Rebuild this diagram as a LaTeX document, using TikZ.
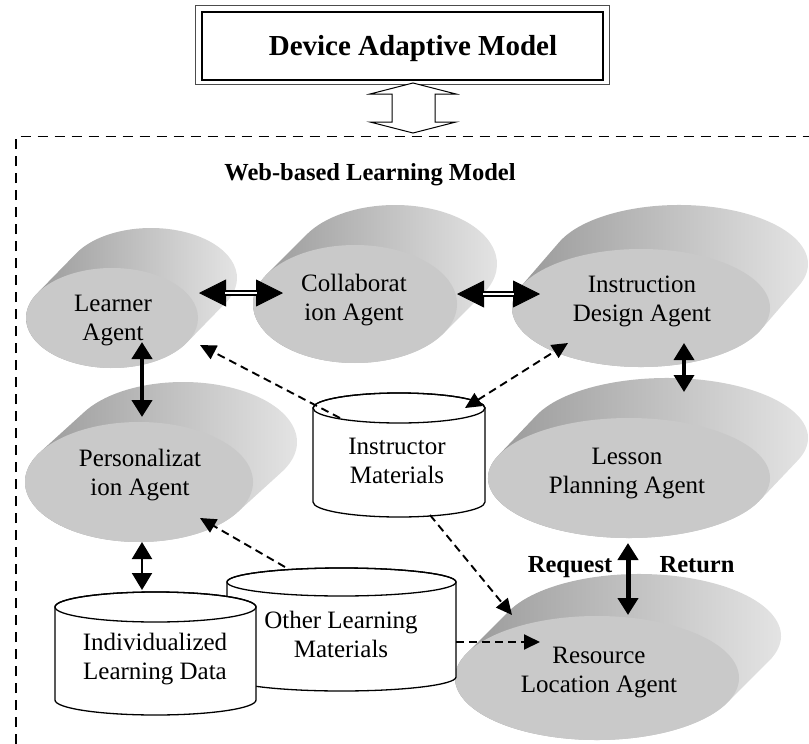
\documentclass[tikz,border=0pt]{standalone}
\usepackage{fontspec}
\setmainfont{Liberation Serif}
\usetikzlibrary{arrows.meta,calc}

\newcommand{\agentshape}[6]{%
  \pgfmathsetmacro{\ta}{atan((#4*#5)/(#3*#6))}%
  \pgfmathsetmacro{\tone}{180-\ta}%
  \pgfmathsetmacro{\ttwo}{-\ta}%
  \pgfmathsetmacro{\tend}{360-\ta}%
  \shade[sideshade] ($(#1,-#2)+(\ttwo:#3pt and #4pt)$) -- ++(#5,#6)
     arc[start angle=\ttwo, end angle=\tone, x radius=#3pt, y radius=#4pt]
     -- ++(-#5,-#6)
     arc[start angle=\tone, end angle=\tend, x radius=#3pt, y radius=#4pt] -- cycle;
  \fill[frontfill] (#1,-#2) ellipse[x radius=#3pt, y radius=#4pt];
}
\newcommand{\cylshape}[5]{%
  \filldraw[cylline, fill=white] (#1-#4,-#2) -- (#1-#4,-#3)
     arc[start angle=180, end angle=360, x radius=#4pt, y radius=#5pt]
     -- (#1+#4,-#2)
     arc[start angle=0, end angle=180, x radius=#4pt, y radius=#5pt] -- cycle;
  \draw[cylline] (#1,-#2) ellipse[x radius=#4pt, y radius=#5pt];
}

\begin{document}
\begin{tikzpicture}[x=1pt,y=1pt,
  sideshade/.style={left color=black!42, right color=black!9},
  frontfill/.style={fill=black!21},
  cylline/.style={draw=black, line width=1.3pt},
  agtext/.style={align=center, font=\fontsize{25}{29}\selectfont, text=black, inner sep=0pt},
  lbl/.style={font=\fontsize{24.5}{29}\selectfont\bfseries, anchor=base, inner sep=0pt},
  dasharr/.style={line width=1.9pt, dash pattern=on 8pt off 5pt},
  dtip/.style={-{Triangle[length=16pt,width=15pt]}},
  dtips/.style={{Triangle[length=16pt,width=15pt]}-{Triangle[length=16pt,width=15pt]}},
  thickarr/.style={line width=#1, {Triangle[length=17pt,width=20pt]}-{Triangle[length=17pt,width=20pt]}},
  dblhead/.style={line width=0.8pt, {Triangle[length=27pt,width=27pt]}-{Triangle[length=27pt,width=27pt]}},
  dblshaft/.style={line width=1.4pt, double=white, double distance=2.4pt, shorten <=26pt, shorten >=26pt}
]
\useasboundingbox (0,0) rectangle (809,-744);
\clip (0,0) rectangle (809,-744);

% title box
\draw[line width=1.3pt, black!70] (195.5,-5.3) rectangle (609.5,-84.5);
\draw[line width=2.8pt] (202,-12) rectangle (603,-80);
\node[font=\fontsize{29}{34}\selectfont\bfseries, anchor=base, inner sep=0pt] (title) at (413,-55) {Device Adaptive Model};

% hollow double arrow
\draw[line width=1pt, fill=white] (413,-83) -- (456,-94) -- (435,-94) -- (435,-122) -- (456,-122)
  -- (413,-133) -- (370,-122) -- (392,-122) -- (392,-94) -- (370,-94) -- cycle;

% dashed outer frame
\draw[line width=1.4pt, dash pattern=on 10pt off 7pt] (16,-744) -- (16,-136.5) -- (809,-136.5);
\node[lbl] (web) at (370,-180) {Web-based Learning Model};

% agents
\agentshape{112}{318}{86}{50}{39}{40}
\agentshape{355}{304}{102}{59}{40}{40}
\agentshape{641}{308}{129}{59}{38}{44}
\agentshape{139}{482}{114}{60}{44}{40}
\agentshape{629}{478}{141}{60}{38}{40}
\agentshape{597}{678}{142}{62}{42}{42}

\node[agtext] (learner) at (113,-321) {Learner\\Agent};
\node[agtext] (collab) at (354,-300) {Collaborat\\ion Agent};
\node[agtext] (instr) at (642,-301) {Instruction\\Design Agent};
\node[agtext] (pers) at (140,-475) {Personalizat\\ion Agent};
\node[agtext] (lesson) at (627,-474) {Lesson\\Planning Agent};
\node[agtext] (resource) at (599,-673) {Resource\\Location Agent};

% data stores
\cylshape{399}{408}{502}{86}{15}
\cylshape{341.5}{582}{677}{114.5}{14}
\cylshape{155.5}{607}{700}{100.5}{15}
\node[agtext] (imat) at (397,-461) {Instructor\\Materials};
\node[agtext] (other) at (341,-634) {Other Learning\\Materials};
\node[agtext] (indiv) at (155,-659) {Individualized\\Learning Data};

% arrow end points
\coordinate (lcA) at (199,-293);
\coordinate (lcB) at (283,-293);
\coordinate (ciA) at (457,-294);
\coordinate (ciB) at (540,-294);
\coordinate (lpA) at (142,-342);
\coordinate (lpB) at (142,-417);
\coordinate (ilA) at (684,-343);
\coordinate (ilB) at (684,-392);
\coordinate (piA) at (142,-542);
\coordinate (piB) at (142,-590);
\coordinate (lrA) at (628,-543);
\coordinate (lrB) at (628,-615);
\coordinate (imL) at (340,-418);
\coordinate (lrnT) at (200,-345);
\coordinate (imR) at (465,-408);
\coordinate (insT) at (568,-343);
\coordinate (imB) at (430,-515);
\coordinate (resT) at (512,-615);
\coordinate (othT) at (285,-567);
\coordinate (perT) at (200,-518);
\coordinate (othR) at (456,-642);
\coordinate (resL) at (540,-642);

% double-line arrows
\draw[dblhead] (lcA) -- (lcB);
\draw[dblshaft] (lcA) -- (lcB);
\draw[dblhead] (ciA) -- (ciB);
\draw[dblshaft] (ciA) -- (ciB);

% solid two-headed arrows
\draw[thickarr=4.5pt] (lpA) -- (lpB);
\draw[thickarr=3.5pt] (ilA) -- (ilB);
\draw[thickarr=2pt] (piA) -- (piB);
\draw[thickarr=5pt] (lrA) -- (lrB);

% dashed arrows
\draw[dasharr, dtip] (imL) -- (lrnT);
\draw[dasharr, dtips] (imR) -- (insT);
\draw[dasharr, dtip] (imB) -- (resT);
\draw[dasharr, dtip] (othT) -- (perT);
\draw[dasharr, dtip] (othR) -- (resL);

\node[lbl] (req) at (570,-572) {Request};
\node[lbl] (ret) at (697,-572) {Return};
\end{tikzpicture}
\end{document}
